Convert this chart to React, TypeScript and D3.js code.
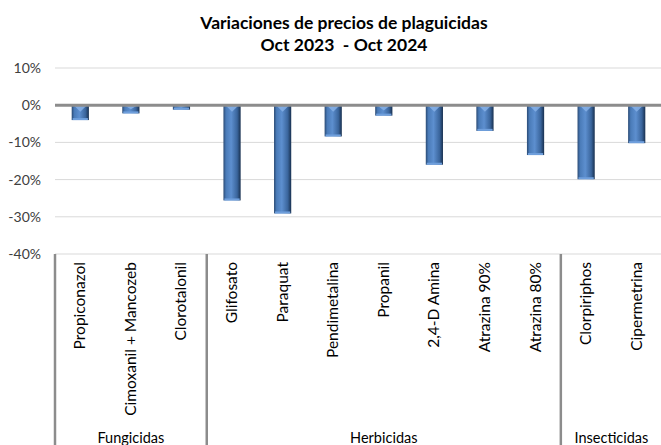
import React, { useEffect, useRef } from "react";
import * as d3 from "d3";

const categories = [
  "Propiconazol",
  "Cimoxanil + Mancozeb",
  "Clorotalonil",
  "Glifosato",
  "Paraquat",
  "Pendimetalina",
  "Propanil",
  "2,4-D Amina",
  "Atrazina 90%",
  "Atrazina 80%",
  "Clorpiriphos",
  "Cipermetrina",
];
const values = [-0.04, -0.022, -0.012, -0.256, -0.291, -0.084, -0.028, -0.16, -0.069, -0.134, -0.199, -0.102];
const groupNames = ["Fungicidas", "Herbicidas", "Insecticidas"];
const groupSizes = [3, 7, 2];
const yTicks = [0.1, 0, -0.1, -0.2, -0.3, -0.4];
const titleLines = ["Variaciones de precios de plaguicidas", "Oct 2023  - Oct 2024"];

const W = 661;
const H = 445;
const FONT = "Lato, 'Open Sans', sans-serif";

const App: React.FC = () => {
  const ref = useRef<SVGSVGElement | null>(null);

  useEffect(() => {
    if (!ref.current) return;
    const svg = d3.select(ref.current);
    svg.selectAll("*").remove();

    const left = 55;
    const right = 662;
    const x = d3.scaleBand<string>().domain(categories).range([left, right]).paddingInner(0.66).paddingOuter(0.33);
    const band = (right - left) / categories.length;
    const y = d3.scaleLinear().domain([-0.4, 0.1]).range([254, 68]);

    // gradient for the bevelled bars
    const defs = svg.append("defs");
    const grad = defs.append("linearGradient").attr("id", "barGrad").attr("x1", "0").attr("x2", "1").attr("y1", "0").attr("y2", "0");
    [
      [0, "#2a4a74"],
      [0.15, "#4a7bb8"],
      [0.45, "#5d8fcf"],
      [0.8, "#3a659c"],
      [1, "#18304f"],
    ].forEach(([o, c]) => grad.append("stop").attr("offset", o as number).attr("stop-color", c as string));

    // title
    svg.append("g")
      .selectAll("text")
      .data(titleLines)
      .enter()
      .append("text")
      .attr("x", 344)
      .attr("y", (_d, i) => 29 + i * 22)
      .attr("text-anchor", "middle")
      .attr("font-family", FONT)
      .attr("font-weight", "bold")
      .attr("font-size", 17.5)
      .attr("fill", "#000")
      .style("white-space", "pre")
      .text(d => d);

    // gridlines
    svg.append("g")
      .selectAll("line")
      .data(yTicks.filter(t => t !== 0))
      .enter()
      .append("line")
      .attr("x1", left)
      .attr("x2", right)
      .attr("y1", d => y(d))
      .attr("y2", d => y(d))
      .attr("stroke", "#d9d9d9")
      .attr("stroke-width", 1);

    // y tick labels
    svg.append("g")
      .selectAll("text")
      .data(yTicks)
      .enter()
      .append("text")
      .attr("x", 41)
      .attr("y", d => y(d))
      .attr("dy", "0.35em")
      .attr("text-anchor", "end")
      .attr("font-family", FONT)
      .attr("font-size", 14)
      .attr("fill", "#404040")
      .text(d => d3.format(".0%")(d).replace("−", "-"));

    // bars
    const bars = svg.append("g");
    categories.forEach((c, i) => {
      const x0 = x(c)!;
      const bw = x.bandwidth();
      const y0 = y(0);
      const y1 = y(values[i]);
      bars.append("rect")
        .attr("x", x0)
        .attr("y", y0)
        .attr("width", bw)
        .attr("height", y1 - y0)
        .attr("fill", "url(#barGrad)");
      // top bevel
      bars.append("path")
        .attr("d", `M${x0 + 2},${y0} L${x0 + bw - 2},${y0} L${x0 + bw / 2},${y0 + Math.min(bw / 2 - 2, (y1 - y0) / 2)} Z`)
        .attr("fill", "#86b0e6")
        .attr("opacity", 0.85);
      // bottom edge
      bars.append("rect")
        .attr("x", x0 + 1)
        .attr("y", y1 - 2)
        .attr("width", bw - 2)
        .attr("height", 2)
        .attr("fill", "#6f9fdc");
    });

    // zero line
    svg.append("line")
      .attr("x1", left)
      .attr("x2", right)
      .attr("y1", y(0))
      .attr("y2", y(0))
      .attr("stroke", "#8c8c8c")
      .attr("stroke-width", 3);

    // category labels
    svg.append("g")
      .selectAll("text")
      .data(categories)
      .enter()
      .append("text")
      .attr("transform", d => `translate(${x(d)! + x.bandwidth() / 2 + 5},262) rotate(-90)`)
      .attr("text-anchor", "end")
      .attr("font-family", FONT)
      .attr("font-size", 15.5)
      .attr("fill", "#000")
      .text(d => d);

    // group dividers and labels
    let start = 0;
    const dividers: number[] = [left];
    const centers: number[] = [];
    groupSizes.forEach(n => {
      const a = left + start * band;
      const b = left + (start + n) * band;
      centers.push((a + b) / 2);
      start += n;
      if (start < categories.length) dividers.push(b);
    });
    svg.append("g")
      .selectAll("line")
      .data(dividers)
      .enter()
      .append("line")
      .attr("x1", d => d)
      .attr("x2", d => d)
      .attr("y1", 254)
      .attr("y2", H)
      .attr("stroke", "#8c8c8c")
      .attr("stroke-width", 2.5);
    svg.append("g")
      .selectAll("text")
      .data(groupNames)
      .enter()
      .append("text")
      .attr("x", (_d, i) => centers[i])
      .attr("y", 443)
      .attr("text-anchor", "middle")
      .attr("font-family", FONT)
      .attr("font-size", 14.5)
      .attr("fill", "#000")
      .text(d => d);
  }, []);

  return (
    <div style={{ position: "absolute", left: 0, top: 0, background: "#fff" }}>
      <svg ref={ref} width={W} height={H} style={{ display: "block" }} />
    </div>
  );
};

export default App;
